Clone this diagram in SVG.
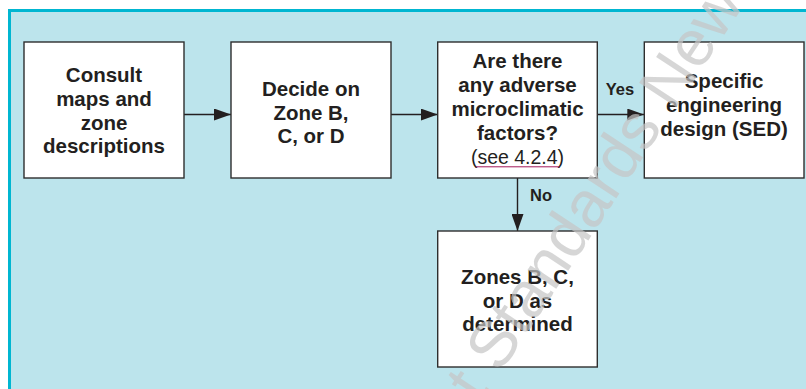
<svg xmlns="http://www.w3.org/2000/svg" width="806" height="389" viewBox="0 0 806 389">
  <defs>
    <style>
      .panel { fill: #bce4ec; stroke: #00b6d1; stroke-width: 3; }
      .box { fill: #ffffff; stroke: #2e2e2e; stroke-width: 1.4; }
      .label { font-family: "Liberation Sans", Arial, Helvetica, sans-serif; font-weight: bold; font-size: 20.5px; fill: #231f20; text-anchor: middle; }
      .ref { font-family: "Liberation Sans", Arial, Helvetica, sans-serif; font-weight: normal; font-size: 19.5px; fill: #231f20; text-anchor: middle; }
      .edge-label { font-family: "Liberation Sans", Arial, Helvetica, sans-serif; font-weight: bold; font-size: 16.5px; fill: #231f20; text-anchor: middle; }
      .edge { stroke: #231f20; stroke-width: 1.4; fill: none; marker-end: url(#arrow); }
      .wm { font-family: "Liberation Sans", Arial, Helvetica, sans-serif; font-size: 65px; fill: #c6c6c6; opacity: 0.7; }
    </style>
    <marker id="arrow" viewBox="0 0 17 12" refX="17" refY="6" markerWidth="17" markerHeight="12" markerUnits="userSpaceOnUse" orient="auto">
      <path d="M0,0 L17,6 L0,12 Z" fill="#231f20"/>
    </marker>
  </defs>

  <!-- background panel, open to the right and bottom -->
  <rect class="panel" x="9.5" y="10.5" width="810" height="400"/>

  <g id="connectors">
    <line class="edge" x1="184" y1="114.5" x2="231" y2="114.5"/>
    <line class="edge" x1="391" y1="114.5" x2="437.7" y2="114.5"/>
    <line class="edge" x1="597.3" y1="114.5" x2="644.3" y2="114.5"/>
    <line class="edge" x1="517.5" y1="178" x2="517.5" y2="231"/>
    <text class="edge-label" x="620" y="95">Yes</text>
    <text class="edge-label" x="541" y="201">No</text>
  </g>

  <g id="consult">
    <rect class="box" x="24" y="42" width="160" height="136"/>
    <text class="label" x="104" y="82">Consult</text>
    <text class="label" x="104" y="105.8">maps and</text>
    <text class="label" x="104" y="129.6">zone</text>
    <text class="label" x="104" y="153.4">descriptions</text>
  </g>

  <g id="decide">
    <rect class="box" x="231" y="42" width="160" height="136"/>
    <text class="label" x="311" y="96">Decide on</text>
    <text class="label" x="311" y="119.5">Zone B,</text>
    <text class="label" x="311" y="143">C, or D</text>
  </g>

  <g id="microclimate">
    <rect class="box" x="437.7" y="42" width="159.6" height="136"/>
    <text class="label" x="517.5" y="68.3">Are there</text>
    <text class="label" x="517.5" y="92">any adverse</text>
    <text class="label" x="517.5" y="115.7">microclimatic</text>
    <text class="label" x="517.5" y="139.5">factors?</text>
    <text class="ref" x="517.5" y="164">(see 4.2.4)</text>
    <line x1="476" y1="166.8" x2="559.5" y2="166.8" stroke="#a3195b" stroke-width="1"/>
  </g>

  <g id="sed">
    <rect class="box" x="644.3" y="42" width="159.7" height="136"/>
    <text class="label" x="724" y="88">Specific</text>
    <text class="label" x="724" y="112">engineering</text>
    <text class="label" x="724" y="136">design (SED)</text>
  </g>

  <g id="zones">
    <rect class="box" x="437.7" y="231" width="159.6" height="136"/>
    <text class="label" x="517.5" y="283.5">Zones B, C,</text>
    <text class="label" x="517.5" y="307.5">or D as</text>
    <text class="label" x="517.5" y="331">determined</text>
  </g>

  <!-- diagonal watermark -->
  <text class="wm" transform="translate(480,404) rotate(-56.5)">t Standards New</text>
</svg>
